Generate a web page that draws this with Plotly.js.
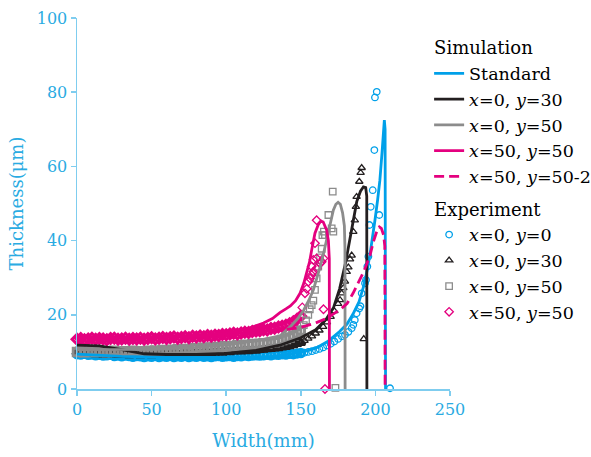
<!DOCTYPE html>
<html><head><meta charset="utf-8">
<script src="https://cdn.plot.ly/plotly-3.0.1.min.js"></script>
<style>body{margin:0;background:#fff}#chart{width:591px;height:457px}</style>
</head><body><div id="chart"></div>
<script>
// ---- Simulation curves ----
const stdX = [0,30,60,100,130,150,160,168,176,181,185,189,192,194.5,196.5,198.2,199.7,201.5,203,204.5,205.5,206,206.5,206.8];
const stdY = [9.4,8.8,8.5,8.5,8.8,9.8,11,12.8,15.5,17.5,20.2,23.5,27.5,32,36.6,41,45.5,51,56.3,64,70,72.5,70,0];
const s030X = [0,15,30,45,60,80,100,120,136,150,160,167,172,176,180,183,185.5,187.5,190,192,193.5,194.2,194.3];
const s030Y = [11.8,11.6,10.6,9.5,9.3,9.3,9.6,10.4,11.8,13.8,16,18.8,22,27,34,41,46,50.5,53.3,54.5,54.3,52,0];
const s050X = [0,50,80,100,120,136,143,148,152,155.5,158.4,161,163,165.5,167.3,169.5,171.8,173.5,175,176.5,178,179.2,179.6,179.7];
const s050Y = [10.6,10.7,11.2,11.9,13,14.3,16.8,19,21.3,24,26.7,30,33,37,40.2,44.5,48.2,49.8,50.3,49.8,47.5,44,38,0];
const s5050X = [0,50,80,100,116,125,131,136,140,143,146.5,149.5,152,154,156,157.3,159.5,161.7,163.5,165,167.3,168.5,169.1,169.2];
const s5050Y = [14,14,14.3,15,16.5,17.8,19,20.6,21.6,22.4,23.8,25.8,28.5,31.2,34.5,37.5,42,44.3,45.3,45,42.9,40,35,0];
const s5050bX = [0,50,100,120,136,150,160,167,176,181,185,189,192,194,196.4,198.5,200,201.5,202.6,204,205.5,206.3,206.5];
const s5050bY = [13.8,13.8,14.5,15,15.8,16.6,17.8,19,21.3,23,25.8,29,31.5,33.5,36,39.5,41.5,43.2,43.7,43.3,41.5,38.5,0];

// ---- Experiment: dense measured band ----
const bandX = [0,2.5,5,7.5,10,12.5,15,17.5,20,22.5,25,27.5,30,32.5,35,37.5,40,42.5,45,47.5,
  50,52.5,55,57.5,60,62.5,65,67.5,70,72.5,75,77.5,80,82.5,85,87.5,90,92.5,95,97.5,
  100,102.5,105,107.5,110,112.5,115,117.5,120,122.5,125,127.5,130,132.5,135,137.5,140,142.5,145,147.5,150];
const e00BandY = [9.4,9.3,9.5,9.2,9.3,9.1,9.2,9.0,9.1,9.2, 8.9,9.0,8.8,9.0,8.9,8.7,8.9,8.8,8.6,8.8,
  8.7,8.9,8.6,8.8,8.7,8.9,8.6,8.8,8.7,8.9, 8.6,8.8,8.7,8.9,8.7,8.8,8.6,8.8,8.9,8.7,
  8.8,8.9,8.7,8.9,8.8,9.0,8.9,9.0,9.1,9.0, 9.1,9.2,9.1,9.3,9.2,9.4,9.3,9.5,9.4,9.6, 9.7];
const e030BandY = [9.8,9.7,9.9,9.6,9.7,9.5,9.6,9.4,9.5,9.6, 9.4,9.3,9.5,9.4,9.2,9.4,9.3,9.2,9.4,9.3,
  9.2,9.4,9.3,9.5,9.3,9.4,9.6,9.4,9.5,9.7, 9.5,9.6,9.8,9.6,9.8,9.9,9.7,9.9,10.0,9.9,
  10.1,10.0,10.2,10.3,10.2,10.4,10.3,10.5,10.4,10.6, 10.7,10.8,10.9,11.0,11.1,11.3,11.4,11.6,11.9,12.2, 12.5];
const e050BandY = [10.0,10.2,9.9,10.1,10.3,10.0,10.2,10.1,9.9,10.2, 10.3,10.0,10.1,10.2,10.0,10.3,10.1,10.2,10.0,10.3,
  10.2,10.4,10.1,10.5,10.3,10.6,10.4,10.7,10.6,10.8, 10.7,11.0,10.9,11.1,11.0,11.2,11.1,11.3,11.2,11.5,
  11.4,11.6,11.5,11.8,11.7,11.9,11.8,12.1,12.0,12.2, 12.3,12.2,12.5,12.6,12.9,13.2,13.5,13.9,14.4,15.0, 15.8];
const e5050BandY = [13.4,13.6,13.3,13.5,13.7,13.4,13.6,13.5,13.3,13.6, 13.7,13.4,13.5,13.7,13.4,13.6,13.5,13.7,13.4,13.6,
  13.8,13.5,13.7,13.9,13.6,13.8,14.0,13.7,13.9,14.1, 13.8,14.2,14.0,14.3,14.1,14.4,14.2,14.5,14.4,14.7,
  14.6,14.8,15.0,14.8,15.1,15.3,15.2,15.5,15.6,15.7, 16.0,15.9,16.3,16.4,16.7,16.9,17.2,17.6,18.1,18.8, 19.6];

// ---- Experiment: points beyond the band ----
const e00TailX = [152.5,155,157.5,160,162.5,165,167.5,170,172.5,175,177.5,179.6,181.9,184.1,185.2,186.2,187.4,189.2,190.0,190.8,193.0,193.7,194.6,195.3,196.0,196.9,198.2,199.3,199.7,200.9,202.6,209.8];
const e00TailY = [9.8,10.0,10.2,10.5,10.8,11.2,11.7,12.2,12.8,13.5,14.2,14.6,15.4,16.4,17.3,18.6,20.4,21.7,22.3,25.8,28.5,29.4,33.0,35.7,44.2,49.1,53.6,64.4,78.6,80.1,46.9,0.2];
const e030TailX = [152.5,155,157.5,160,162.5,165,167.5,170,172.5,175,176.3,177.4,178.5,179.6,180.8,181.9,183.0,184.1,185.2,186.2,186.9,187.4,189.2,190.1,190.8,192.2];
const e030TailY = [13.0,13.6,14.2,15.0,15.8,16.8,18.0,19.5,21.0,23.0,24.0,25.8,27.2,29.0,31.6,32.8,35.0,36.0,42.4,45.5,49.1,51.8,55.9,58.3,59.6,13.5];
const e050TailX = [152,153.5,155,156,157.3,158.4,159.5,160.6,161.7,162.9,164.0,164.5,165.5,166.2,168.5,170.7,171.8,171.4,173.2];
const e050TailY = [17.2,18.5,20.0,21.5,22.6,23.8,26.7,29.8,33.0,35.5,37.8,41.5,42.4,41.5,46.9,43.3,42.4,53.2,0.3];
const e5050TailX = [151.0,152.8,154.0,155.0,156.2,157.3,158.4,160.6,162.9,164.0,165.2,157.3,158.4,160.6,159.5,160.6,165.2,166.2];
const e5050TailY = [22.0,25.8,27.0,28.9,29.8,30.7,31.6,32.5,33.9,34.3,35.2,33.0,34.8,35.2,39.3,45.5,21.5,0.0];

const BLUE = '#00a0e9', BLACK = '#231f20', GRAY = '#8c8c8c', PINK = '#e4007f';
const AX = '#7fcdef', TK = '#2aabe2';
const LW = 2.8;

function simTrace(x, y, name, color, rank, dash) {
  return {x, y, name, type:'scatter', mode:'lines', line:{color, width:LW, dash: dash||'solid'},
    legendgroup:'sim', legendrank:rank, legendgrouptitle:{text:'Simulation', font:{size:18}},
    cliponaxis:false, hoverinfo:'skip'};
}
function expTrace(x, y, name, color, symbol, rank) {
  return {x, y, name, type:'scatter', mode:'markers',
    marker:{symbol, size:6.5, color, line:{color, width:1.3}},
    legendgroup:'exp', legendrank:rank, legendgrouptitle:{text:'Experiment', font:{size:18}},
    cliponaxis:false, hoverinfo:'skip'};
}
function bandTrace(y, color, symbol) {
  return {x:bandX, y, type:'scatter', mode:'markers', showlegend:false,
    marker:{symbol, size:7.5, color, line:{color, width:3}}, cliponaxis:false, hoverinfo:'skip'};
}

const data = [
  bandTrace(e00BandY, BLUE, 'circle-open'),
  bandTrace(e030BandY, BLACK, 'triangle-up-open'),
  bandTrace(e050BandY, GRAY, 'square-open'),
  bandTrace(e5050BandY, PINK, 'diamond-open'),
  expTrace(e00TailX, e00TailY, '<i>x</i>=0, <i>y</i>=0', BLUE, 'circle-open', 11),
  expTrace(e030TailX, e030TailY, '<i>x</i>=0, <i>y</i>=30', BLACK, 'triangle-up-open', 12),
  expTrace(e050TailX, e050TailY, '<i>x</i>=0, <i>y</i>=50', GRAY, 'square-open', 13),
  expTrace(e5050TailX, e5050TailY, '<i>x</i>=50, <i>y</i>=50', PINK, 'diamond-open', 14),
  simTrace(stdX, stdY, 'Standard', BLUE, 1),
  simTrace(s030X, s030Y, '<i>x</i>=0, <i>y</i>=30', BLACK, 2),
  simTrace(s050X, s050Y, '<i>x</i>=0, <i>y</i>=50', GRAY, 3),
  simTrace(s5050X, s5050Y, '<i>x</i>=50, <i>y</i>=50', PINK, 4),
  simTrace(s5050bX, s5050bY, '<i>x</i>=50, <i>y</i>=50-2', PINK, 5, '10px,5px')
];

const layout = {
  width:591, height:457,
  margin:{l:77, r:141, t:18, b:68, autoexpand:false},
  paper_bgcolor:'#fff', plot_bgcolor:'#fff',
  font:{family:'DejaVu Serif', color:'#000', size:17},
  showlegend:true,
  xaxis:{range:[0,250], dtick:50, tick0:0, showgrid:false, zeroline:false, showline:true,
    linecolor:AX, linewidth:1.5, ticks:'outside', ticklen:5, tickwidth:1.5, tickcolor:AX,
    tickfont:{size:16, color:TK, family:'DejaVu Serif'},
    title:{text:'Width(mm)', font:{size:18, color:TK, family:'DejaVu Serif'}, standoff:16}},
  yaxis:{range:[0,100], dtick:20, tick0:0, showgrid:false, zeroline:false, showline:true,
    linecolor:AX, linewidth:1.5, ticks:'outside', ticklen:5, tickwidth:1.5, tickcolor:AX,
    tickfont:{size:16, color:TK, family:'DejaVu Serif'},
    title:{text:'Thickness(μm)', font:{size:18, color:TK, family:'DejaVu Serif'}, standoff:8}},
  legend:{x:0.944, y:0.970, xanchor:'left', yanchor:'top', bgcolor:'rgba(0,0,0,0)', borderwidth:0,
    traceorder:'grouped', tracegroupgap:6, font:{size:17.5, family:'DejaVu Serif', color:'#000'}}
};

Plotly.newPlot('chart', data, layout, {displayModeBar:false, staticPlot:true});
</script></body></html>
